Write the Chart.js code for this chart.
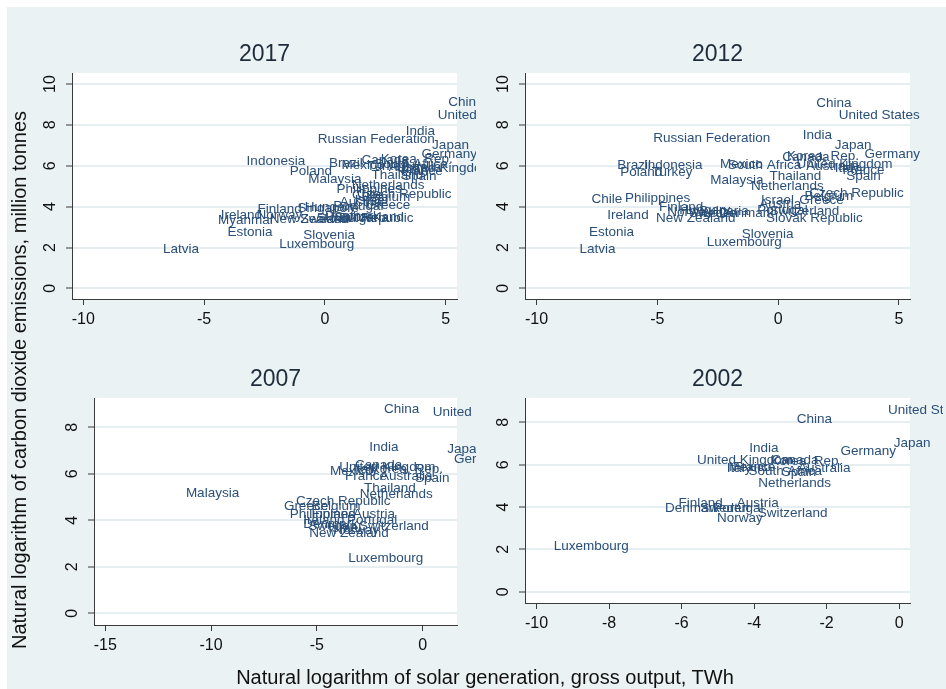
<!DOCTYPE html>
<html>
<head>
<meta charset="utf-8">
<title>CO2 emissions vs solar generation</title>
<script src="https://cdn.jsdelivr.net/npm/chart.js@4.4.1/dist/chart.umd.min.js"></script>
<style>
  html, body { margin: 0; padding: 0; background: #ffffff; }
  #stage { position: relative; width: 946px; height: 689px; overflow: hidden; background: #ffffff; }
  #bg { position: absolute; left: 7px; top: 7px; right: 0; bottom: 0; background: #eaf2f3; }
  #stage canvas { position: absolute; left: 0; top: 0; }
  .axtitle { position: absolute; font-family: 'Liberation Sans', Arial, Helvetica, sans-serif;
             font-size: 20px; color: #111; text-align: center; line-height: 24px; white-space: nowrap; }
  #ytitle { width: 700px; height: 24px; left: -331px; top: 368px; transform: rotate(-90deg); }
  #xtitle { width: 600px; height: 24px; left: 185px; top: 665px; }
</style>
</head>
<body>
<div id="stage">
  <div id="bg"></div>
  <canvas id="c2017" width="946" height="689"></canvas>
  <canvas id="c2012" width="946" height="689"></canvas>
  <canvas id="c2007" width="946" height="689"></canvas>
  <canvas id="c2002" width="946" height="689"></canvas>
  <div class="axtitle" id="ytitle">Natural logarithm of carbon dioxide emissions, million tonnes</div>
  <div class="axtitle" id="xtitle">Natural logarithm of solar generation, gross output, TWh</div>
</div>
<script>
// ---- 2017 ----
const names2017 = ["China","United States","India","Russian Federation","Japan","Germany","Korea, Rep.","Canada",
  "Indonesia","Brazil","Mexico","Turkey","South Africa","Australia","United Kingdom","Italy","France","Spain",
  "Thailand","Poland","Malaysia","Netherlands","Philippines","Czech Republic","Chile","Belgium","Israel","Austria",
  "Greece","Portugal","Hungary","Singapore","Finland","Ireland","Norway","Myanmar","New Zealand","Sweden",
  "Slovak Republic","Denmark","Bulgaria","Switzerland","Estonia","Slovenia","Luxembourg","Latvia"];
const solar2017 = [4.82,4.38,3.06,-0.59,4.15,3.71,2.02,1.23,
  -3.53,-0.12,0.40,1.44,1.75,2.35,2.68,3.05,2.85,2.90,
  1.64,-1.74,-0.98,0.82,0.19,1.04,0.83,1.23,0.95,0.33,
  1.41,0.06,-1.12,-1.42,-3.08,-4.60,-3.12,-4.72,-2.57,-1.32,
  -0.63,-0.29,0.30,0.10,-4.32,-1.19,-2.18,-6.99];
const co2_2017 = [9.10,8.46,7.68,7.30,6.99,6.58,6.34,6.29,
  6.21,6.13,6.01,5.96,6.05,5.93,5.88,5.85,5.72,5.47,
  5.55,5.72,5.34,5.03,4.85,4.62,4.55,4.45,4.30,4.22,
  4.08,4.03,3.95,3.92,3.87,3.59,3.59,3.35,3.40,3.40,
  3.45,3.51,3.42,3.48,2.75,2.58,2.16,1.91];

// ---- 2012 ----
const names2012 = ["China","United States","Russian Federation","India","Japan","Germany","Canada","Korea, Rep.",
  "United Kingdom","Australia","Italy","France","Spain","Mexico","South Africa","Brazil","Indonesia","Poland",
  "Turkey","Malaysia","Thailand","Netherlands","Czech Republic","Belgium","Greece","Israel","Austria","Chile",
  "Philippines","Finland","Ireland","New Zealand","Norway","Hungary","Sweden","Bulgaria","Denmark","Portugal",
  "Switzerland","Slovak Republic","Estonia","Latvia","Slovenia","Luxembourg"];
const solar2012 = [1.29,2.22,-5.46,0.73,2.05,3.29,-0.12,0.08,
  0.47,0.87,2.05,2.38,2.53,-2.70,-2.38,-6.95,-5.84,-6.83,
  -5.52,-3.10,-0.65,-1.41,1.00,0.80,0.59,-1.00,-1.07,-8.02,
  -6.63,-5.22,-7.36,-5.35,-4.88,-4.38,-3.97,-3.56,-2.73,-1.15,
  -0.65,-0.79,-8.12,-8.51,-1.80,-3.25];
const co2_2012 = [9.07,8.45,7.33,7.47,7.02,6.58,6.40,6.45,
  6.09,5.96,5.90,5.76,5.47,6.08,6.01,6.03,6.00,5.67,
  5.67,5.27,5.47,5.01,4.66,4.52,4.33,4.33,4.13,4.36,
  4.39,3.97,3.56,3.43,3.74,3.84,3.69,3.79,3.69,3.84,
  3.79,3.43,2.75,1.93,2.66,2.28];

// ---- 2007 ----
const names2007 = ["China","United States","India","Japan","Germany","Canada","United Kingdom","Korea, Rep.",
  "Italy","Mexico","France","Australia","Spain","Thailand","Netherlands","Malaysia","Czech Republic","Belgium",
  "Greece","Philippines","Finland","Austria","Portugal","Ireland","Denmark","Sweden","Israel","Switzerland",
  "Norway","New Zealand","Luxembourg"];
const solar2007 = [-2.16,0.14,-2.86,0.83,1.15,-3.53,-4.27,-2.78,
  -3.61,-4.71,-4.00,-2.35,-0.70,-3.11,-3.30,-11.52,-6.32,-5.58,
  -6.89,-6.61,-5.58,-3.62,-3.91,-5.98,-5.98,-5.74,-4.79,-3.34,
  -4.56,-5.69,-3.85];
const co2_2007 = [8.76,8.65,7.13,7.07,6.64,6.36,6.29,6.21,
  6.18,6.09,5.89,5.89,5.79,5.39,5.10,5.17,4.81,4.62,
  4.60,4.24,4.24,4.24,4.02,4.02,3.85,3.73,3.66,3.73,
  3.59,3.45,2.35];

// ---- 2002 ----
const names2002 = ["United States","China","Japan","Germany","India","United Kingdom","Canada","Korea, Rep.",
  "Mexico","Italy","France","South Africa","Australia","Spain","Netherlands","Finland","Austria","Denmark",
  "Sweden","Portugal","Switzerland","Norway","Luxembourg"];
const solar2002 = [-0.50,-3.02,-0.34,-1.81,-4.33,-5.77,-3.72,-3.75,
  -4.90,-4.95,-4.77,-4.35,-2.98,-3.43,-4.08,-6.28,-4.67,-6.65,
  -5.68,-5.32,-4.09,-5.22,-9.72];
const co2_2002 = [8.57,8.13,7.00,6.65,6.79,6.21,6.21,6.18,
  5.90,5.82,5.87,5.71,5.82,5.66,5.11,4.17,4.17,3.93,
  3.96,3.93,3.73,3.46,2.16];

// ---- tick labels ----
const xTicksTop = [-10, -5, 0, 5];
const yTicksTop = [0, 2, 4, 6, 8, 10];
const xTicks2007 = [-15, -10, -5, 0];
const xTicks2002 = [-10, -8, -6, -4, -2, 0];
const yTicksBottom = [0, 2, 4, 6, 8];

const FONT = "'Liberation Sans', Arial, Helvetica, sans-serif";
const LABEL_COLOR = '#2a4f78';
const AXIS_COLOR = '#3a3a3a';
const GRID_COLOR = '#e6eef1';

Chart.defaults.font.family = FONT;

// white plot region, country labels right of each (invisible) marker, panel title
const panelDecor = {
  id: 'panelDecor',
  beforeDraw(chart) {
    const { ctx, chartArea: a } = chart;
    ctx.save();
    ctx.fillStyle = '#ffffff';
    ctx.fillRect(a.left, a.top, a.right - a.left, a.bottom - a.top);
    ctx.restore();
  },
  afterDatasetsDraw(chart) {
    const ds = chart.data.datasets[0];
    const meta = chart.getDatasetMeta(0);
    const a = chart.chartArea;
    const ctx = chart.ctx;
    ctx.save();
    ctx.beginPath();
    ctx.rect(ds.clipLeft, 0, ds.clipRight - ds.clipLeft, chart.height);
    ctx.clip();
    ctx.font = '13.5px ' + FONT;
    ctx.fillStyle = LABEL_COLOR;
    ctx.textAlign = 'left';
    ctx.textBaseline = 'middle';
    meta.data.forEach((pt, i) => ctx.fillText(ds.names[i], pt.x + 7, pt.y));
    ctx.restore();

    ctx.save();
    ctx.font = '23px ' + FONT;
    ctx.fillStyle = '#1d2b3a';
    ctx.textAlign = 'center';
    ctx.textBaseline = 'middle';
    ctx.fillText(ds.label, (a.left + a.right) / 2, a.top - 18);
    ctx.restore();
  }
};

function makePanel(cfg) {
  const data = cfg.x.map((v, i) => ({ x: v, y: cfg.y[i] }));
  return new Chart(document.getElementById(cfg.id), {
    type: 'scatter',
    data: {
      datasets: [{
        label: cfg.title,
        data: data,
        names: cfg.names,
        clipLeft: cfg.clip[0],
        clipRight: cfg.clip[1],
        pointRadius: 0,
        pointHoverRadius: 0,
        showLine: false
      }]
    },
    options: {
      responsive: false,
      animation: false,
      events: [],
      layout: { padding: cfg.pad },
      plugins: { legend: { display: false }, tooltip: { enabled: false }, title: { display: false } },
      scales: {
        x: {
          type: 'linear',
          min: cfg.xMin, max: cfg.xMax,
          afterBuildTicks: s => { s.ticks = cfg.xTicks.map(v => ({ value: v })); },
          afterFit: s => { s.height = 40; },
          grid: { display: true, drawOnChartArea: false, drawTicks: true, tickLength: 6,
                  tickColor: AXIS_COLOR, tickWidth: 1, color: AXIS_COLOR },
          border: { display: true, color: AXIS_COLOR, width: 1 },
          ticks: { font: { size: 16 }, color: '#111', padding: 5, maxRotation: 0, autoSkip: false,
                   callback: v => String(v) }
        },
        y: {
          type: 'linear',
          min: cfg.yMin, max: cfg.yMax,
          afterBuildTicks: s => { s.ticks = cfg.yTicks.map(v => ({ value: v })); },
          afterFit: s => { s.width = 40; },
          grid: { display: true, drawOnChartArea: true, drawTicks: true, tickLength: 6,
                  tickColor: AXIS_COLOR, tickWidth: 1, color: GRID_COLOR, lineWidth: 2 },
          border: { display: true, color: AXIS_COLOR, width: 1 },
          ticks: { font: { size: 16 }, color: '#111', padding: cfg.yTickPad, minRotation: 90, maxRotation: 90,
                   crossAlign: 'center', autoSkip: false, callback: v => String(v) }
        }
      }
    },
    plugins: [panelDecor]
  });
}

makePanel({ id: 'c2017', title: '2017', names: names2017, x: solar2017, y: co2_2017,
  xMin: -10.47, xMax: 5.47, yMin: -0.52, yMax: 10.54, xTicks: xTicksTop, yTicks: yTicksTop,
  pad: { left: 32, right: 489, top: 73, bottom: 350 }, clip: [0, 476], yTickPad: 6.5 });

makePanel({ id: 'c2012', title: '2012', names: names2012, x: solar2012, y: co2_2012,
  xMin: -10.48, xMax: 5.46, yMin: -0.52, yMax: 10.54, xTicks: xTicksTop, yTicks: yTicksTop,
  pad: { left: 485, right: 36, top: 73, bottom: 350 }, clip: [476, 943], yTickPad: 6.5 });

makePanel({ id: 'c2007', title: '2007', names: names2007, x: solar2007, y: co2_2007,
  xMin: -15.53, xMax: 1.62, yMin: -0.50, yMax: 9.26, xTicks: xTicks2007, yTicks: yTicksBottom,
  pad: { left: 54, right: 489, top: 398, bottom: 24 }, clip: [0, 476], yTickPad: 11 });

makePanel({ id: 'c2002', title: '2002', names: names2002, x: solar2002, y: co2_2002,
  xMin: -10.32, xMax: 0.30, yMin: -0.53, yMax: 9.15, xTicks: xTicks2002, yTicks: yTicksBottom,
  pad: { left: 485, right: 36, top: 398, bottom: 46 }, clip: [476, 943], yTickPad: 11 });
</script>
</body>
</html>
